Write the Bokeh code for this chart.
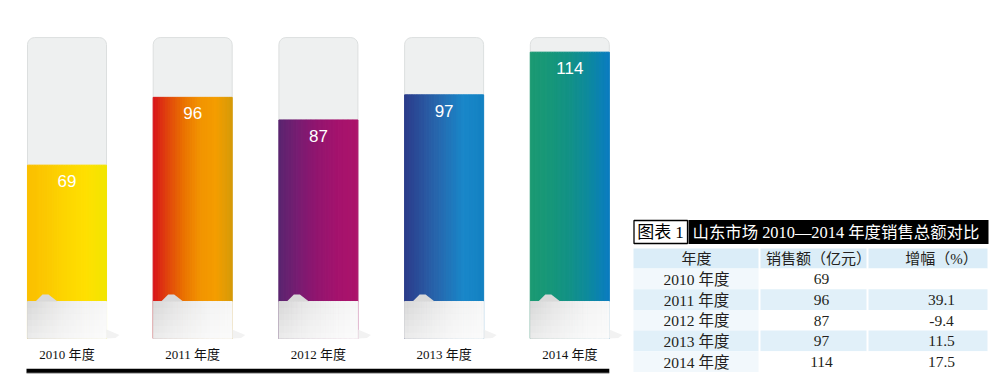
from bokeh.plotting import figure
from bokeh.models import Range1d, ColumnDataSource
from bokeh.layouts import row
from bokeh.embed import file_html
from bokeh.resources import INLINE
from bokeh.core.properties import value

# ---------------- data ----------------
years = ["2010 年度", "2011 年度", "2012 年度", "2013 年度", "2014 年度"]
sales = [69, 96, 87, 97, 114]
growth = ["", "39.1", "-9.4", "11.5", "17.5"]
title_tag = "图表 1"
title_text = "山东市场 2010—2014 年度销售总额对比"
header = ["年度", "销售额（亿元）", "增幅（%）"]

# ---------------- style ----------------
gradients = [
    ["#fbbf00", "#fcc900", "#fdd600", "#ffe000", "#f1e500"],
    ["#d8121b", "#e1480c", "#ea7300", "#f29400", "#f49d00", "#d69a08"],
    ["#59256f", "#781c72", "#93156f", "#a4126d", "#ad156b"],
    ["#2b3b8a", "#2a559f", "#246fb4", "#1987c9", "#1381c2"],
    ["#1b9a72", "#179779", "#129186", "#0d8a9f", "#0a7bc0"],
]
PX_X = 125.7          # pixels per category step
PX_Y = 2.511          # pixels per value unit
X0PX = 66.5           # pixel centre of first bar
Y0PX = 337.9          # pixel row of value 0
BW = 79 / PX_X        # bar width (data units)
TRACK_TOP = 119.8
BASE_TOP = 14.7
N = 32
SERIF_CJK = value("'Liberation Serif', 'Noto Sans CJK SC'")


def hex2rgb(h):
    h = h.lstrip("#")
    return tuple(int(h[i:i + 2], 16) for i in (0, 2, 4))


def interp(stops, t):
    n = len(stops) - 1
    pos = t * n
    k = min(int(pos), n - 1)
    f = pos - k
    a, b = hex2rgb(stops[k]), hex2rgb(stops[k + 1])
    c = [round(a[j] + (b[j] - a[j]) * f) for j in range(3)]
    return "#%02x%02x%02x" % tuple(c)


CW = 628
CH = 387
p = figure(width=CW, height=CH,
           x_range=Range1d(-X0PX / PX_X, (CW - X0PX) / PX_X),
           y_range=Range1d((Y0PX - CH) / PX_Y, Y0PX / PX_Y),
           output_backend="svg", toolbar_location=None, min_border=0,
           outline_line_color=None, background_fill_color="white",
           border_fill_color="white")
p.axis.visible = False
p.grid.visible = False

idx = list(range(len(sales)))

# background tracks
p.vbar(x=idx, width=BW, bottom=0, top=TRACK_TOP, fill_color="#eef0f0",
       line_color="#dcdfdf", line_width=1, border_radius=(7, 7, 0, 0))

# gradient bars (vertical slices)
sx, st, sc = [], [], []
for i, v in enumerate(sales):
    for k in range(N):
        tt = (k + 0.5) / N
        sx.append(i - BW / 2 + (k + 0.5) * BW / N)
        st.append(v)
        sc.append(interp(gradients[i], tt))
p.vbar(x="x", top="top", bottom=0, width=BW / N + 0.0005, color="c",
       source=ColumnDataSource(dict(x=sx, top=st, c=sc)))

# grey bases
bx, bc = [], []
base_stops = ["#d6d6d6", "#e2e2e2", "#ececec", "#f3f3f3", "#f7f7f7"]
for i in idx:
    for k in range(N):
        bx.append(i - BW / 2 + (k + 0.5) * BW / N)
        bc.append(interp(base_stops, (k + 0.5) / N))
p.vbar(x="x", top=BASE_TOP, bottom=0, width=BW / N + 0.0005, color="c",
       source=ColumnDataSource(dict(x=bx, c=bc)))
# vertical lightening toward bottom
bands = 6
for b in range(bands):
    y1 = BASE_TOP * (1 - b / bands)
    y0 = BASE_TOP * (1 - (b + 1) / bands)
    p.vbar(x=idx, width=BW, top=y1, bottom=y0, fill_color="white",
           fill_alpha=0.08 * (b + 1), line_color=None)

# little peak on each base, soft shadow to the right
for i in idx:
    left = i - BW / 2
    xs = [left + 8 / PX_X, left + 15 / PX_X, left + 21 / PX_X, left + 30 / PX_X]
    ys = [BASE_TOP, BASE_TOP + 7 / PX_Y, BASE_TOP + 7 / PX_Y, BASE_TOP]
    p.patch(xs, ys, fill_color="#d9d9d9", line_color=None)
    right = i + BW / 2
    p.patch([right, right + 13 / PX_X, right + 9 / PX_X, right],
            [9 / PX_Y, 3.5 / PX_Y, 0.5 / PX_Y, 0],
            fill_color="#ececec", fill_alpha=0.7, line_color=None)

# value labels
p.text(x=idx, y=sales, text=[str(v) for v in sales], y_offset=16,
       text_align="center", text_baseline="middle", text_color="white",
       text_font=value("Liberation Sans"), text_font_size="17px")

# year labels
p.text(x=idx, y=0, text=years, y_offset=16, text_align="center",
       text_baseline="middle", text_color="#111111", text_font=SERIF_CJK,
       text_font_size="13px")

# bottom rule
lx = [0 - BW / 2 - 1 / PX_X, len(sales) - 1 + BW / 2]
ly = (Y0PX - 370.3) / PX_Y
p.line(lx, [ly - 2.3 / PX_Y] * 2, line_color="#b8b8b8", line_width=2)
p.line(lx, [ly] * 2, line_color="black", line_width=4)

# ---------------- table ----------------
TW = 989 - CW
t = figure(width=TW, height=CH, x_range=Range1d(CW, CW + TW),
           y_range=Range1d(CH, 0), output_backend="svg",
           toolbar_location=None, min_border=0, outline_line_color=None,
           background_fill_color="white", border_fill_color="white")
t.axis.visible = False
t.grid.visible = False

# title
t.quad(left=[633.5], right=[687], top=[220], bottom=[243], fill_color="white",
       line_color="black", line_width=1.3)
t.text(x=[660], y=[231.8], text=[title_tag], text_align="center",
       text_baseline="middle", text_color="black", text_font=SERIF_CJK,
       text_font_size="17px")
t.quad(left=[688], right=[988], top=[219.5], bottom=[243.5], fill_color="black",
       line_color=None)
t.text(x=[692], y=[231.8], text=[title_text], text_align="left",
       text_baseline="middle", text_color="white", text_font=SERIF_CJK,
       text_font_size="16.4px")

col_l = [633, 760, 868]
col_r = [758, 866, 987]
col_c = [696, 818, 941]
row_edges = [268, 288.7, 309.4, 330.1, 350.8, 371.5]

# header row
t.quad(left=col_l, right=col_r, top=[248] * 3, bottom=[268] * 3,
       fill_color="#dbedf8", line_color=None)
t.text(x=col_c, y=[258.5] * 3, text=header, text_align="center",
       text_baseline="middle", text_color="#231f20", text_font=SERIF_CJK,
       text_font_size="15px")

for r in range(len(years)):
    top, bot = row_edges[r], row_edges[r + 1]
    if r % 2 == 1:
        fills = ["#e1f0f9"] * 3
    else:
        fills = ["#f2f8fc", "#ffffff", "#ffffff"]
    t.quad(left=col_l, right=col_r, top=[top] * 3, bottom=[bot] * 3,
           fill_color=fills, line_color=None)
    cy = (top + bot) / 2 + 0.5
    t.text(x=[col_c[0], 821, col_c[2]], y=[cy] * 3,
           text=[years[r], str(sales[r]), growth[r]],
           text_align="center", text_baseline="middle", text_color="#231f20",
           text_font=SERIF_CJK, text_font_size="15.5px")

layout = row(p, t, spacing=0)
open("out.html", "w").write(file_html(layout, INLINE))
